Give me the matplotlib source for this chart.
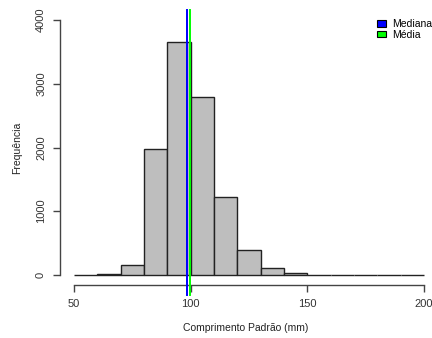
import matplotlib.pyplot as plt
import numpy as np

# histogram data (bins of 10 mm)
bin_edges = [50, 60, 70, 80, 90, 100, 110, 120, 130, 140, 150, 160, 170, 180, 190, 200]
counts = [0, 8, 155, 1980, 3660, 2790, 1230, 390, 100, 25, 0, 0, 0, 0, 0]
mediana = 98.4
media = 99.9

plt.rcParams['font.family'] = ['Liberation Sans', 'DejaVu Sans']

fig = plt.figure(figsize=(4.32, 3.38), dpi=100)
W, H = 432, 338
# axes placed in pixel terms (left, bottom, width, height)
ax = fig.add_axes([60 / W, (H - 285) / H, (432 - 60) / W, (285 - 10) / H])

left = np.array(bin_edges[:-1])
widths = np.diff(bin_edges)
ax.bar(left, counts, width=widths, align='edge', color='#BEBEBE',
       edgecolor='#222222', linewidth=1.0, zorder=2)

ax.axvline(mediana, ymin=-0.036, ymax=1, color='#0000FF', lw=1.4, clip_on=False, zorder=3)
ax.axvline(media, ymin=-0.036, ymax=1, color='#00FF00', lw=1.4, clip_on=False, zorder=3)

ax.set_xlim(44, 203.43)
ax.set_ylim(-160, 4160)

for s in ['top', 'right']:
    ax.spines[s].set_visible(False)
ax.spines['left'].set_bounds(0, 4000)
ax.spines['bottom'].set_bounds(50, 200)
for s in ['left', 'bottom']:
    ax.spines[s].set_color('#444444')
    ax.spines[s].set_linewidth(1.0)

ax.set_xticks([50, 100, 150, 200])
ax.set_yticks([0, 1000, 2000, 3000, 4000])
ax.tick_params(axis='both', direction='out', length=5, width=1.0, color='#444444',
               labelsize=8, labelcolor='#333333', pad=5)
for lab in ax.get_yticklabels():
    lab.set_rotation(90)
    lab.set_va('center')

ax.set_xlabel('Comprimento Padrão (mm)', fontsize=7.5, color='#222222', labelpad=10)
ax.set_ylabel('Frequência', fontsize=7.5, color='#222222', labelpad=10)

handles = [plt.Rectangle((0, 0), 1, 1, facecolor='#0000FF', edgecolor='black', lw=0.8),
           plt.Rectangle((0, 0), 1, 1, facecolor='#00FF00', edgecolor='black', lw=0.8)]
ax.legend(handles, ['Mediana', 'Média'], loc='upper right', frameon=False, fontsize=7.5,
          handlelength=0.8, handleheight=0.6, handletextpad=0.6, labelspacing=0.05,
          borderaxespad=0.2, bbox_to_anchor=(1.017, 0.99))

fig.savefig('out.png', dpi=100)
